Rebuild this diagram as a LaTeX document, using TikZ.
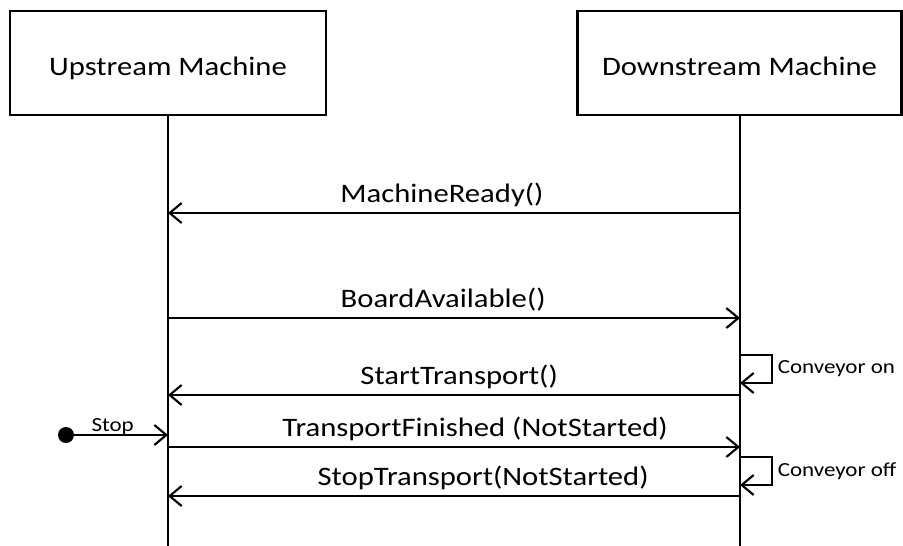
\documentclass[tikz,border=0pt]{standalone}
\usepackage{fontspec}
\setmainfont{Carlito}[FakeStretch=1.15]
\usetikzlibrary{arrows.meta}
\tikzstyle{machine}=[draw, line width=2.2pt, minimum height=78pt, text height=18pt, text depth=0pt, font=\fontsize{20}{24}\selectfont]
\tikzstyle{lifeline}=[line width=2pt]
\tikzstyle{message}=[line width=2pt, -{Straight Barb[length=9pt, width=15pt, line width=1.6pt]}]
\tikzstyle{call}=[anchor=base, yshift=8pt, font=\fontsize{20}{24}\selectfont]
\tikzstyle{note}=[right, font=\fontsize{15}{18}\selectfont]
\tikzstyle{start}=[circle, fill, inner sep=0pt, minimum size=12pt]

\begin{document}
\begin{tikzpicture}[x=0.75pt, y=-0.75pt]
      \useasboundingbox (0, 0) rectangle (903, 546);

      \node[machine, minimum width=237pt] (up) at (168, 63) {Upstream Machine};
      \node[machine, minimum width=243pt] (down) at (739.5, 63) {Downstream Machine};
      \coordinate (up_end) at (168, 546);
      \coordinate (down_end) at (740, 546);
      \draw[lifeline] (up.south -| up_end) -- (up_end);
      \draw[lifeline] (down.south -| down_end) -- (down_end);

      \coordinate (up_ready) at (168, 213);
      \coordinate (down_ready) at (740, 213);
      \coordinate (up_avail) at (168, 318);
      \coordinate (down_avail) at (740, 318);
      \coordinate (down_on) at (740, 355);
      \coordinate (down_on') at (740, 383);
      \coordinate (up_start) at (168, 395);
      \coordinate (down_start) at (740, 395);
      \coordinate (up_stop) at (168, 435);
      \coordinate (up_fin) at (168, 447);
      \coordinate (down_fin) at (740, 447);
      \coordinate (down_off) at (740, 457);
      \coordinate (down_off') at (740, 485);
      \coordinate (up_halt) at (168, 496);
      \coordinate (down_halt) at (740, 496);
      \node[start] (stop) at (66, 435) {};

      \draw[message] (down_ready)
        to node[call, pos=0.521] {MachineReady()} (up_ready);
      \draw[message] (up_avail)
        to node[call, pos=0.481] {BoardAvailable()} (down_avail);
      \draw[message] (down_on) -- ++(32, 0)
        -- node[note] {Conveyor on} ++(0, 28) -- (down_on');
      \draw[message] (down_start)
        to node[call, pos=0.491] {StartTransport()} (up_start);
      \draw[message] (stop)
        to node[pos=0.41, anchor=base, yshift=3pt, font=\fontsize{15}{18}\selectfont] {Stop} (up_stop);
      \draw[message] (up_fin)
        to node[call, pos=0.537] {TransportFinished (NotStarted)} (down_fin);
      \draw[message] (down_off) -- ++(32, 0)
        -- node[note] {Conveyor off} ++(0, 28) -- (down_off');
      \draw[message] (down_halt)
        to node[call, pos=0.449] {StopTransport(NotStarted)} (up_halt);
    \end{tikzpicture}
\end{document}
